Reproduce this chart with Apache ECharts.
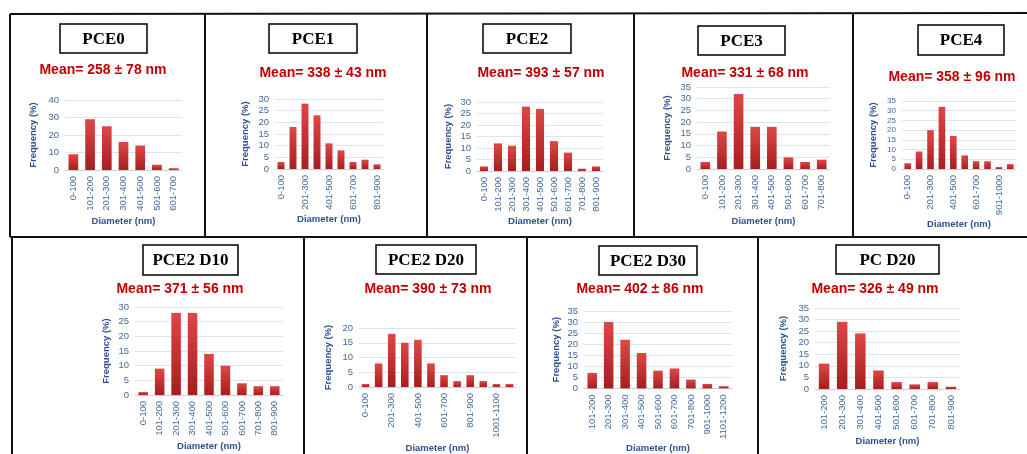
<!DOCTYPE html>
<html><head><meta charset="utf-8">
<script src="https://cdn.jsdelivr.net/npm/echarts@6/dist/echarts.min.js"></script>
<style>html,body{margin:0;padding:0;background:#fff}#c{width:1027px;height:454px}</style>
</head><body><div id="c"></div>
<script>
// ---- data ----
const pce0Cats = ['0-100','101-200','201-300','301-400','401-500','501-600','601-700'];
const pce0Vals = [9,29,25,16,14,3,1];
const pce1Cats = ['0-100','101-200','201-300','301-400','401-500','501-600','601-700','701-800','801-900'];
const pce1Vals = [3,18,28,23,11,8,3,4,2];
const pce2Cats = ['0-100','101-200','201-300','301-400','401-500','501-600','601-700','701-800','801-900'];
const pce2Vals = [2,12,11,28,27,13,8,1,2];
const pce3Cats = ['0-100','101-200','201-300','301-400','401-500','501-600','601-700','701-800'];
const pce3Vals = [3,16,32,18,18,5,3,4];
const pce4Cats = ['0-100','101-200','201-300','301-400','401-500','501-600','601-700','701-800','901-1000','1001-1100'];
const pce4Vals = [3,9,20,32,17,7,4,4,1,2.5];
const d10Cats = ['0-100','101-200','201-300','301-400','401-500','501-600','601-700','701-800','801-900'];
const d10Vals = [1,9,28,28,14,10,4,3,3];
const d20Cats = ['0-100','101-200','201-300','301-400','401-500','501-600','601-700','701-800','801-900','901-1000','1001-1100','1101-1200'];
const d20Vals = [1,8,18,15,16,8,4,2,4,2,1,1];
const d30Cats = ['101-200','201-300','301-400','401-500','501-600','601-700','701-800','901-1000','1101-1200'];
const d30Vals = [7,30,22,16,8,9,4,2,1];
const pcd20Cats = ['101-200','201-300','301-400','401-500','501-600','601-700','701-800','801-900'];
const pcd20Vals = [11,29,24,8,3,2,3,1];
const panelNames = ['PCE0','PCE1','PCE2','PCE3','PCE4','PCE2 D10','PCE2 D20','PCE2 D30','PC D20'];
const meanTexts = ['Mean= 258 ± 78 nm','Mean= 338 ± 43 nm','Mean= 393 ± 57 nm','Mean= 331 ± 68 nm','Mean= 358 ± 96 nm','Mean= 371 ± 56 nm','Mean= 390 ± 73 nm','Mean= 402 ± 86 nm','Mean= 326 ± 49 nm'];
const yMaxes = [40,30,30,35,35,30,20,35,35];
const yIntervals = [10,5,5,5,5,5,5,5,5];
const allCats = [pce0Cats,pce1Cats,pce2Cats,pce3Cats,pce4Cats,d10Cats,d20Cats,d30Cats,pcd20Cats];
const allVals = [pce0Vals,pce1Vals,pce2Vals,pce3Vals,pce4Vals,d10Vals,d20Vals,d30Vals,pcd20Vals];

// ---- layout (positions only) ----
const layout = [
 {grid:[65,100,182,170], box:[60,24,87,29], mean:[103,70], xGap:46, yGap:27, lblInt:0, yFont:9.5},
 {grid:[275,99,383,169], box:[269,24,88,29], mean:[323,73], xGap:45, yGap:25, lblInt:1, yFont:9.5},
 {grid:[477,102,603,171], box:[483,24,88,29], mean:[541,73], xGap:45, yGap:24, lblInt:0, yFont:9.5},
 {grid:[697,87,830,169], box:[698,26,87,29], mean:[745,73], xGap:47, yGap:25, lblInt:0, yFont:9.5},
 {grid:[902,101,1016,169], box:[918,25,86,30], mean:[952,77], xGap:47, yGap:24, lblInt:1, yFont:8},
 {grid:[135,307,283,395], box:[143,245,95,30], mean:[180,289], xGap:46, yGap:24, lblInt:0, yFont:9.5},
 {grid:[359,328,516,387], box:[376,245,100,29], mean:[428,289], xGap:56, yGap:26, lblInt:1, yFont:9.5},
 {grid:[584,311,732,398], box:[599,246,98,29], mean:[640,289], xGap:48, yGap:23, lblInt:0, yFont:9.5},
 {grid:[815,308,960,389], box:[836,245,103,29], mean:[875,289], xGap:47, yGap:27, lblInt:0, yFont:9.5}
];

const tickColor = '#44689e';
const titleColor = '#2f5190';
const barColor = new echarts.graphic.LinearGradient(0,0,0,1,[{offset:0,color:'#df4745'},{offset:1,color:'#a51f1f'}]);

const grids=[], xAxes=[], yAxes=[], series=[], graphics=[];
layout.forEach((L,i)=>{
  const [l,t,r,b]=L.grid;
  grids.push({left:l, top:t, width:r-l, height:b-t, containLabel:false});
  xAxes.push({type:'category', gridIndex:i, data:allCats[i],
    axisLine:{lineStyle:{color:'#d0d0d0'}}, axisTick:{show:false},
    axisLabel:{rotate:90, interval:L.lblInt, color:tickColor, fontSize:9.5, fontFamily:'Liberation Sans', margin:6, hideOverlap:false},
    name:'Diameter (nm)', nameLocation:'middle', nameGap:L.xGap,
    nameTextStyle:{color:titleColor, fontWeight:'bold', fontSize:9.5, fontFamily:'Liberation Sans'}});
  yAxes.push({type:'value', gridIndex:i, min:0, max:yMaxes[i], interval:yIntervals[i],
    axisLine:{show:false}, axisTick:{show:false},
    splitLine:{lineStyle:{color:'#dbe5f1'}},
    axisLabel:{color:tickColor, fontSize:L.yFont, fontFamily:'Liberation Sans', margin:6, hideOverlap:false, showMinLabel:true, showMaxLabel:true},
    name:'Frequency (%)', nameLocation:'middle', nameGap:L.yGap,
    nameTextStyle:{color:titleColor, fontWeight:'bold', fontSize:9.5, fontFamily:'Liberation Sans'}});
  series.push({type:'bar', xAxisIndex:i, yAxisIndex:i, data:allVals[i], barCategoryGap:'42%',
    itemStyle:{color:barColor}, silent:true});
  const [bx,by,bw,bh]=L.box;
  graphics.push({type:'rect', shape:{x:bx,y:by,width:bw,height:bh}, style:{fill:'#fff', stroke:'#000', lineWidth:1.5}});
  graphics.push({type:'text', x:bx+bw/2, y:by+bh/2+1, style:{text:panelNames[i], align:'center', verticalAlign:'middle',
    font:'bold 17px "Liberation Serif"', fill:'#000'}});
  graphics.push({type:'text', x:L.mean[0], y:L.mean[1], style:{text:meanTexts[i], align:'center', verticalAlign:'middle',
    font:'bold 14px "Liberation Sans"', fill:'#c00000'}});
});

// panel border lines
const lines = [
  [10,14,1027,13],[10,237,1027,237],
  [10,14,10,237],[205,14,205,237],[427,14,427,237],[634,14,634,237],[853,14,853,237],
  [12,237,12,454],[304,237,304,454],[527,237,527,454],[758,237,758,454]
];
lines.forEach(p=>graphics.push({type:'line', shape:{x1:p[0],y1:p[1],x2:p[2],y2:p[3]}, style:{stroke:'#111', lineWidth:2}}));

const chart = echarts.init(document.getElementById('c'), null, {renderer:'canvas'});
chart.setOption({animation:false, backgroundColor:'#fff', grid:grids, xAxis:xAxes, yAxis:yAxes, series:series, graphic:graphics});
</script></body></html>
